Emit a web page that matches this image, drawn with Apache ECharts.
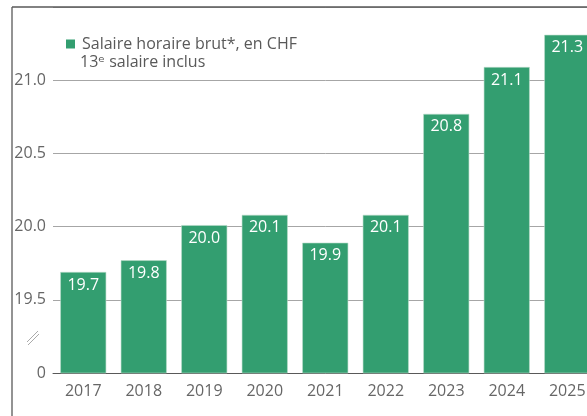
<!DOCTYPE html>
<html>
<head>
<meta charset="utf-8">
<script src="https://cdn.jsdelivr.net/npm/echarts@6/dist/echarts.min.js"></script>
<style>
  html, body { margin: 0; padding: 0; background: #fff; overflow: hidden; }
  #chart { width: 598px; height: 416px; }
</style>
</head>
<body>
<div id="chart"></div>
<script>
var years = ["2017", "2018", "2019", "2020", "2021", "2022", "2023", "2024", "2025"];
var salaire = [19.69, 19.77, 20.01, 20.08, 19.89, 20.08, 20.77, 21.09, 21.31];
var seriesName = "Salaire horaire brut*, en CHF";
var subTitle = "13ᵉ salaire inclus";

// le graphique d'origine est coupé à droite : le conteneur déborde de la fenêtre
var myChart = echarts.init(document.getElementById("chart"));
var font = "'Open Sans', 'DejaVu Sans', sans-serif";

var option = {
  animation: false,
  textStyle: { fontFamily: font },
  grid: { left: 53, top: 7, right: 0.5, bottom: 43 },
  legend: {
    left: 61,
    top: 31,
    itemWidth: 9,
    itemHeight: 9,
    icon: "rect",
    itemStyle: { borderWidth: 0 },
    textStyle: { color: "#595959", fontSize: 16, fontFamily: font, padding: [0, 0, 0, 2] },
    data: [seriesName]
  },
  xAxis: {
    type: "category",
    data: years,
    axisTick: { show: false },
    axisLine: { lineStyle: { color: "#595959", width: 1 } },
    axisLabel: { color: "#666", fontSize: 16, margin: 10 }
  },
  yAxis: {
    type: "value",
    min: 19,
    max: 21.5,
    interval: 0.5,
    axisLine: { show: false },
    axisTick: { show: false },
    splitLine: { lineStyle: { color: "#a6a6a6", width: 1 } },
    axisLabel: {
      color: "#666",
      fontSize: 16,
      margin: 7,
      formatter: function (v) {
        if (v === 19) return "0";
        if (v === 21.5) return "";
        return v.toFixed(1);
      }
    }
  },
  series: [
    {
      name: seriesName,
      type: "bar",
      barWidth: 46,
      data: salaire,
      itemStyle: { color: "#339e70", borderColor: "#b9dcc9", borderWidth: 0.6 },
      label: {
        show: true,
        position: "insideTop",
        distance: 5,
        color: "#fff",
        fontSize: 16,
        formatter: function (p) { return p.value.toFixed(1); }
      }
    }
  ],
  graphic: [
    { type: "text", left: 80, top: 54, style: { text: subTitle, fill: "#595959", font: "16px " + font } },
    // cadre
    { type: "line", z: 100, shape: { x1: 12, y1: 7, x2: 598, y2: 7 }, style: { stroke: "#595959", lineWidth: 1.3 } },
    { type: "line", z: 100, shape: { x1: 12, y1: 7, x2: 12, y2: 416 }, style: { stroke: "#595959", lineWidth: 1.3 } },
    // rupture d'axe
    { type: "line", shape: { x1: 27, y1: 342, x2: 38, y2: 331 }, style: { stroke: "#aaa", lineWidth: 1 } },
    { type: "line", shape: { x1: 28, y1: 345, x2: 39, y2: 334 }, style: { stroke: "#aaa", lineWidth: 1 } }
  ]
};

myChart.setOption(option);
</script>
</body>
</html>
